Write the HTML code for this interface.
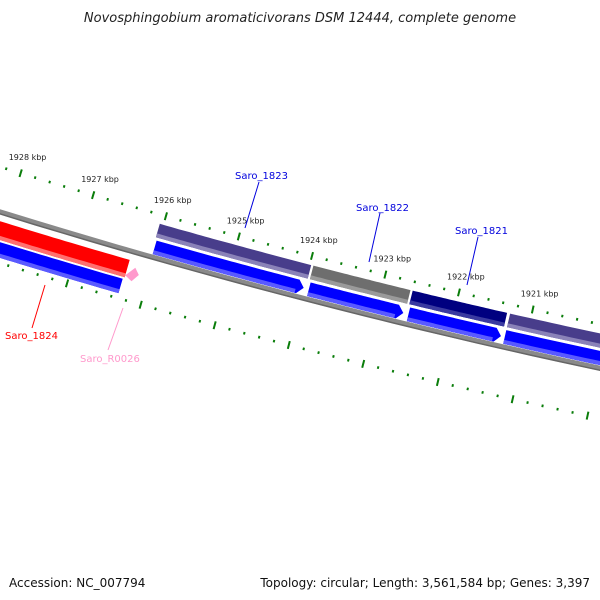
<!DOCTYPE html>
<html><head><meta charset="utf-8"><style>
html,body{margin:0;padding:0;background:#fff;}
svg{display:block;font-family:"DejaVu Sans","Liberation Sans",sans-serif;}
</style></head><body>
<svg id="chart" width="600" height="600" viewBox="0 0 600 600" xmlns="http://www.w3.org/2000/svg">
<rect width="600" height="600" fill="#fff"/>
<text x="300" y="22" text-anchor="middle" font-size="13" font-style="italic" fill="#222">Novosphingobium aromaticivorans DSM 12444, complete genome</text>
<g id="ticks"></g>
<g id="genes"></g>
<g id="labels"></g>
<text x="9" y="587" font-size="12" fill="#111">Accession: NC_007794</text>
<text x="590" y="587" text-anchor="end" font-size="12" fill="#111">Topology: circular; Length: 3,561,584 bp; Genes: 3,397</text>
</svg>
<script>
// data
const tickLabelsKbp = [1928, 1927, 1926, 1925, 1924, 1923, 1922, 1921];
const geneNames = ["Saro_1824", "Saro_R0026", "Saro_1823", "Saro_1822", "Saro_1821", "Saro_1820"];
const geneStarts = [1929.5, 1926.2, 1926.05, 1923.95, 1922.6, 1921.28];
const geneEnds = [1926.3, 1926.13, 1923.98, 1922.63, 1921.32, 1917.5];
const geneTrack = ["left", "rna", "fwd", "fwd", "fwd", "fwd"];
const geneColors = ["#ff0000", "#ff99cc", "#483d8b", "#6e6e6e", "#000080", "#483d8b"];
const cdsStarts = [1929.5, 1926.03, 1923.93, 1922.58, 1921.28];
const cdsEnds = [1926.32, 1924.0, 1922.65, 1921.33, 1917.5];
const cdsTrack = ["left", "fwd", "fwd", "fwd", "fwd"];

// geometry
const CX = 2024, CY = -6325;
const NS = "http://www.w3.org/2000/svg";
function ang(p){ return (105.22 + (p - 1925) * 0.638) * Math.PI / 180; }
function pt(p, r){ const a = ang(p); return [CX + r * Math.cos(a), CY + r * Math.sin(a)]; }
function el(tag, attrs, parent){ const e = document.createElementNS(NS, tag); for (const k in attrs) e.setAttribute(k, attrs[k]); parent.appendChild(e); return e; }
function arcPts(p1, p2, r){ const out = []; const n = 40; for (let i = 0; i <= n; i++){ out.push(pt(p1 + (p2 - p1) * i / n, r)); } return out; }
function bandPath(p1, p2, r1, r2, arrow){
  let pts;
  if (arrow){
    const tip = 0.08;
    const pe = p2 + tip;
    pts = arcPts(p1, pe, r1).concat([pt(p2, (r1 + r2) / 2)]).concat(arcPts(pe, p1, r2));
  } else {
    pts = arcPts(p1, p2, r1).concat(arcPts(p2, p1, r2));
  }
  return "M" + pts.map(q => q[0].toFixed(1) + "," + q[1].toFixed(1)).join("L") + "Z";
}

const tg = document.getElementById("ticks");
const gg = document.getElementById("genes");
const lg = document.getElementById("labels");

// backbone
const bb = el("path", {d: "M" + arcPts(1931, 1916, 6843).map(q => q[0].toFixed(1) + "," + q[1].toFixed(1)).join("L"), fill: "none", stroke: "#8a8a8a", "stroke-width": 5}, gg);


const bb2 = el("path", {d: "M" + arcPts(1931, 1916, 6845).map(q => q[0].toFixed(1) + "," + q[1].toFixed(1)).join("L"), fill: "none", stroke: "#666", "stroke-width": 1.5}, gg);



// ticks
const rowsR = [6800, 6892];
for (let k = 0; k < rowsR.length; k++){
  const rc = rowsR[k];
  for (let i = 0; i <= 75; i++){
    const p = 1931 - i * 0.2;
    const major = (i % 5 === 0);
    const half = major ? 4 : 1.3;
    const a = pt(p, rc - half), b = pt(p, rc + half);
    const t = el("line", {x1: a[0].toFixed(1), y1: a[1].toFixed(1), x2: b[0].toFixed(1), y2: b[1].toFixed(1), stroke: "#0a7d0a", "stroke-width": 2}, tg);
    
    
  }
}
for (let i = 0; i < tickLabelsKbp.length; i++){
  const p = tickLabelsKbp[i];
  const q = pt(p, 6800);
  const t = el("text", {x: (q[0] - 12).toFixed(1), y: (q[1] - 13).toFixed(1), "font-size": 8, fill: "#222"}, tg);
  t.textContent = p + " kbp";
  
  
}

// track radii
const trackR = {fwd: [6809, 6823], left: [6852, 6870], rna: [6858, 6870]};
const cdsR = {fwd: [6826, 6840], left: [6872, 6887]};

function lighter(c){ return c === "#ff0000" ? "#ff7070" : c === "#6e6e6e" ? "#9a9a9a" : c === "#000080" ? "#3a3aa0" : c === "#483d8b" ? "#8a82b8" : c; }

for (let i = 0; i < geneNames.length; i++){
  const r = trackR[geneTrack[i]];
  if (geneTrack[i] === "rna"){
    const a = pt(geneStarts[i], r[0]), b = pt(geneEnds[i], (r[0] + r[1]) / 2), c = pt(geneStarts[i], r[1] + 2), d = pt(geneStarts[i] + 0.1, r[1] - 2);
    const g = el("path", {d: `M${a[0]},${a[1]}L${b[0]},${b[1]}L${c[0]},${c[1]}L${d[0]},${d[1]}Z`, fill: geneColors[i]}, gg);
    
    
    continue;
  }
  const g = el("path", {d: bandPath(geneStarts[i], geneEnds[i], r[0], r[1], false), fill: geneColors[i]}, gg);
  
  
  const s = el("path", {d: bandPath(geneStarts[i], geneEnds[i], r[1] - 4, r[1], false), fill: lighter(geneColors[i])}, gg);
  
  
}
for (let i = 0; i < cdsStarts.length; i++){
  const r = cdsR[cdsTrack[i]];
  const arrow = cdsTrack[i] === "fwd";
  const g = el("path", {d: bandPath(cdsStarts[i], cdsEnds[i], r[0], r[1], arrow), fill: "#0000ff"}, gg);
  
  
  const s = el("path", {d: bandPath(cdsStarts[i], cdsEnds[i] + (arrow ? 0.1 : 0), r[1] - 4, r[1], false), fill: "#5a5aff"}, gg);
  
  
}

// labels
const labelText = ["Saro_1824", "Saro_R0026", "Saro_1823", "Saro_1822", "Saro_1821"];
const labelColor = ["#ff0000", "#ff99cc", "#0000dd", "#0000dd", "#0000dd"];
const labelX = [5, 80, 235, 356, 455];
const labelY = [339, 362, 179, 211, 234];
const leaderFrom = [[32, 328], [108, 350], [259, 182], [380, 213], [478, 237]];
const leaderTo = [[45, 285], [123, 308], [245, 228], [369, 262], [467, 285]];
for (let i = 0; i < labelText.length; i++){
  const l = el("line", {x1: leaderFrom[i][0], y1: leaderFrom[i][1], x2: leaderTo[i][0], y2: leaderTo[i][1], stroke: labelColor[i], "stroke-width": 1}, lg);
  
  
  const t = el("text", {x: labelX[i], y: labelY[i], "font-size": 10, fill: labelColor[i]}, lg);
  t.textContent = labelText[i];
  
  
}
</script>
</body></html>
